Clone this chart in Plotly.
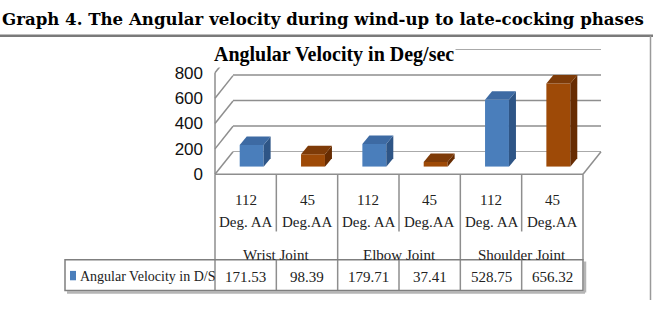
import plotly.graph_objects as go

# ---------------- data ----------------
angles = ["112", "45", "112", "45", "112", "45"]
angle_units = ["Deg. AA", "Deg.AA", "Deg. AA", "Deg.AA", "Deg. AA", "Deg.AA"]
joints = ["Wrist Joint", "Elbow Joint", "Shoulder Joint"]
series_name = "Angular Velocity in D/S"
values = [171.53, 98.39, 179.71, 37.41, 528.75, 656.32]
y_ticks = [0, 200, 400, 600, 800]

# ---------------- geometry / style ----------------
W, H = 653, 310
def px(x):
    return x / W
def py(y):
    return 1 - y / H

FX0, FX1 = 215, 583          # front floor edge
FY0, FY8 = 176, 68           # front plane: value 0 / 800
DX, DY = 18, 24              # full depth offset (right, up)
BDX, BDY = 6, 8              # bar front plane offset
BAR_DEPTH_X, BAR_DEPTH_Y = 7, 9
YMAX = 800
NCAT = len(values)
CATW = (FX1 - FX0) / NCAT
PPU = (FY0 - FY8) / YMAX     # pixels per unit

grid_col = "#8e8e8e"
serif = "Liberation Serif"

blue = dict(front="#4A7EBB", top="#3D6AA3", side="#2E5586")
orange = dict(front="#9E4A07", top="#7E3B08", side="#672C02")
pal = [blue, orange] * 3

fig = go.Figure()

# ---- bars (on mid-depth plane, axes x3/y3) ----
bw = 0.39
fig.add_trace(go.Bar(
    x=list(range(NCAT)), y=values, width=bw,
    marker=dict(color=[p["front"] for p in pal], line=dict(width=0)),
    xaxis="x3", yaxis="y3", hoverinfo="skip", showlegend=False,
))
ddx = BAR_DEPTH_X * NCAT / (FX1 - FX0)
ddy = BAR_DEPTH_Y / PPU
for i, v in enumerate(values):
    xl, xr = i - bw / 2, i + bw / 2
    fig.add_trace(go.Scatter(
        x=[xr, xr, xr + ddx, xr + ddx, xr], y=[0, v, v + ddy, ddy, 0],
        fill="toself", fillcolor=pal[i]["side"], line=dict(width=0),
        mode="lines", xaxis="x3", yaxis="y3", hoverinfo="skip", showlegend=False))
    fig.add_trace(go.Scatter(
        x=[xl, xr, xr + ddx, xl + ddx, xl], y=[v, v, v + ddy, v + ddy, v],
        fill="toself", fillcolor=pal[i]["top"], line=dict(width=0),
        mode="lines", xaxis="x3", yaxis="y3", hoverinfo="skip", showlegend=False))

# ---- dummy traces so the front (labels) and back (grid) axes render ----
fig.add_trace(go.Scatter(x=[0], y=[0], mode="markers", marker=dict(opacity=0),
                         hoverinfo="skip", showlegend=False))
fig.add_trace(go.Scatter(x=[0], y=[0], mode="markers", marker=dict(opacity=0),
                         xaxis="x2", yaxis="y2", hoverinfo="skip", showlegend=False))

common_x = dict(range=[-0.5, NCAT - 0.5], showgrid=False, zeroline=False,
                showticklabels=False, ticks="", showline=False, fixedrange=True)
noax_y = dict(range=[0, YMAX], showgrid=False, zeroline=False, showticklabels=False,
              ticks="", showline=False)
fig.update_layout(
    width=W, height=H, margin=dict(l=0, r=0, t=0, b=0),
    paper_bgcolor="white", plot_bgcolor="rgba(0,0,0,0)",
    xaxis=dict(domain=[px(FX0), px(FX1)], anchor="y", **common_x),
    yaxis=dict(domain=[py(FY0), py(FY8)], anchor="x", range=[0, YMAX],
               tickvals=y_ticks, ticktext=[str(t) for t in y_ticks],
               showgrid=False, zeroline=False, ticks="", showline=False,
               ticklabelstandoff=11,
               tickfont=dict(family="Liberation Sans Narrow, Liberation Sans, Arial", size=17, color="#111")),
    xaxis2=dict(domain=[px(FX0 + DX), px(FX1 + DX)], anchor="y2", **common_x),
    yaxis2=dict(domain=[py(FY0 - DY), py(FY8 - DY - 1)], anchor="x2", **noax_y),
    xaxis3=dict(domain=[px(FX0 + BDX), px(FX1 + BDX)], anchor="y3", **common_x),
    yaxis3=dict(domain=[py(FY0 - BDY), py(FY8 - BDY)], anchor="x3", **noax_y),
)

shapes = []
def line(x0, y0, x1, y1, color=grid_col, w=1.5, layer="below"):
    shapes.append(dict(type="line", xref="paper", yref="paper",
                       x0=px(x0), y0=py(y0), x1=px(x1), y1=py(y1),
                       line=dict(color=color, width=w), layer=layer))

def yfront(v):
    return FY0 - v * PPU

# back wall gridlines (through the back-plane axis scale)
for t in y_ticks:
    shapes.append(dict(type="line", xref="x2 domain", yref="y2", x0=0, x1=1, y0=t, y1=t,
                       line=dict(color=grid_col, width=1.5), layer="below"))
# side wall
line(FX0, FY0, FX0, FY8)
for t in y_ticks:
    line(FX0, yfront(t), FX0 + DX, yfront(t) - DY)
# floor
line(FX0, FY0, FX1, FY0)
line(FX1, FY0, FX1 + DX, FY0 - DY)

# category-label area separators
TBL_T, TBL_B, TBL_L = 267, 300, 65
for k in range(NCAT + 1):
    x = FX0 + k * CATW
    yb = TBL_T if k % 2 == 0 else 237
    line(x, FY0, x, yb, layer="above")
    if k < NCAT:
        line(x, TBL_T, x, TBL_B, layer="above")

# table box with shadow
line(TBL_L + 2, TBL_B + 2, FX1 + 2, TBL_B + 2, color="#b5b5b5", w=2.5, layer="above")
line(FX1 + 2, TBL_T + 2, FX1 + 2, TBL_B + 2, color="#b5b5b5", w=2.5, layer="above")
shapes.append(dict(type="rect", xref="paper", yref="paper",
                   x0=px(TBL_L), x1=px(FX1), y0=py(TBL_B), y1=py(TBL_T),
                   line=dict(color="#7f7f7f", width=1.5), layer="above"))
# legend key
shapes.append(dict(type="rect", xref="paper", yref="paper",
                   x0=px(70), x1=px(76), y0=py(289), y1=py(279),
                   fillcolor=blue["front"], line=dict(width=0), layer="above"))
# chart frame
line(0, 28.5, W, 28.5, color="#7a7a7a", w=2.5, layer="above")
line(650.5, 28.5, 650.5, H, color="#9a9a9a", w=1.5, layer="above")

fig.update_layout(shapes=shapes)

ann = []
def add(text, x, y, xref="paper", xanchor="center", font=None, **kw):
    ann.append(dict(text=text, xref=xref, yref="paper", x=x, y=py(y),
                    xanchor=xanchor, yanchor="middle", showarrow=False,
                    font=font, **kw))

# heading
add("<b>Graph 4. The Angular velocity during wind-up to late-cocking phases</b>", 0, 11,
    xanchor="left", font=dict(family="DejaVu Serif", size=16.6, color="black"))
# chart title
add("<b>Anglular Velocity in Deg/sec</b>", px(334), 49, bgcolor="white",
    font=dict(family=serif, size=20, color="black"))
tf = dict(family=serif, size=15, color="#222")
for i in range(NCAT):
    add(angles[i], i, 203, xref="x", font=tf)
    add(angle_units[i], i, 227, xref="x", font=tf)
    add(f"{values[i]:.2f}", i, 285, xref="x", font=tf)
for g, name in enumerate(joints):
    add(name, 2 * g + 0.5, 262, xref="x", font=tf)
add(series_name, px(78), 285, xanchor="left", font=dict(family=serif, size=14, color="#222"))
fig.update_layout(annotations=ann)

fig.write_html("out.html")
